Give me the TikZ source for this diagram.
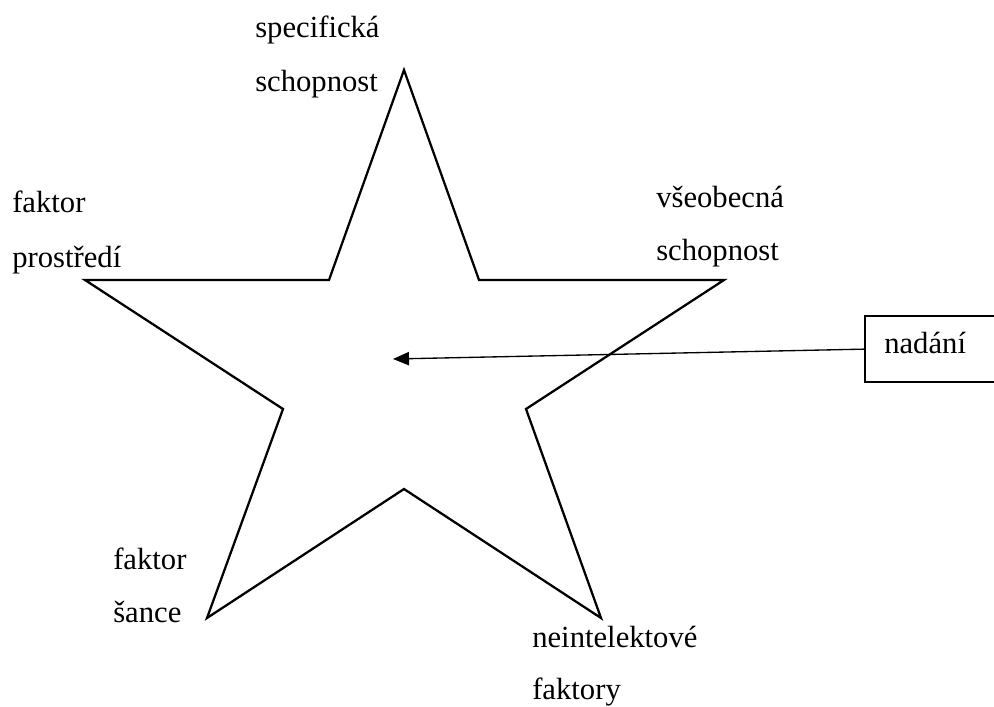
\documentclass[tikz,border=0pt]{standalone}
\usepackage{fontspec}
\setmainfont{Liberation Serif}
\usetikzlibrary{arrows.meta}
\begin{document}
\begin{tikzpicture}[x=0.75pt,y=-0.75pt,
  lbl/.style={anchor=base west,inner sep=0pt,font=\fontsize{23}{27}\selectfont},
  starline/.style={draw=black,line width=1.7pt,line join=miter},
  boxst/.style={draw=black,line width=1.7pt,inner sep=0pt,anchor=north west},
  arr/.style={draw=black,line width=1pt,-{Triangle[length=12pt,width=10pt]}}]
\useasboundingbox (0,0) rectangle (994,706);
\clip (0,0) rectangle (994,706);
% star
\coordinate (t) at (404,70);
\coordinate (i1) at (479,280);
\coordinate (r) at (724,280);
\coordinate (i2) at (526,409);
\coordinate (br) at (601,618);
\coordinate (i3) at (404,489);
\coordinate (bl) at (207,618);
\coordinate (i4) at (283,409);
\coordinate (l) at (85,280);
\coordinate (i5) at (329,280);
\draw[starline] (t) -- (i1) -- (r) -- (i2) -- (br) -- (i3) -- (bl) -- (i4) -- (l) -- (i5) -- cycle;
% labels
\node[lbl] (spec1) at (255,38) {specifická};
\node[lbl] (spec2) at (255,92) {schopnost};
\node[lbl] (vse1) at (656,207) {všeobecná};
\node[lbl] (vse2) at (656,260) {schopnost};
\node[lbl] (fp1) at (12,212) {faktor};
\node[lbl] (fp2) at (12,267) {prostředí};
\node[lbl] (fs1) at (113,569) {faktor};
\node[lbl] (fs2) at (113,622) {šance};
\node[lbl] (ni1) at (532,647) {neintelektové};
\node[lbl] (ni2) at (532,699) {faktory};
% box
\node[boxst,minimum width=105pt,minimum height=49.5pt] (box) at (864,315) {};
\node[lbl] (nad) at (884,353) {nadání};
\coordinate (tip) at (393,359);
\draw[arr] (box.west) -- (tip);
\end{tikzpicture}
\end{document}
